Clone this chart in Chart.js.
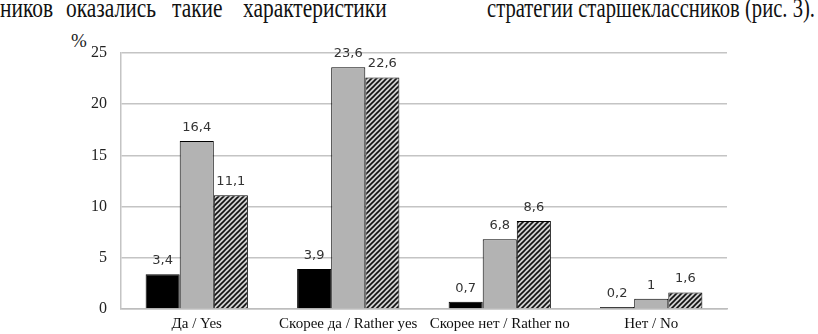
<!DOCTYPE html>
<html>
<head>
<meta charset="utf-8">
<script src="https://cdn.jsdelivr.net/npm/chart.js@4.4.1/dist/chart.umd.min.js"></script>
<style>
  html, body { margin: 0; padding: 0; background: #fff; }
  body { width: 818px; height: 334px; position: relative; overflow: hidden; }
  .txt { position: absolute; top: -5px; font-family: "Liberation Serif", "DejaVu Serif", serif; font-size: 27px; line-height: 27px; color: #111; white-space: nowrap; transform-origin: 0 0; }
  #t2 { left: 487px; }
  #pct { position: absolute; left: 71px; top: 30px; font-family: "Liberation Serif", serif; font-size: 19px; color: #222; }
  #wrap { position: absolute; left: 0; top: 0; width: 818px; height: 334px; }
</style>
</head>
<body>
<div class="txt" id="w1" style="left:0">ников</div>
<div class="txt" id="w2" style="left:66px">оказались</div>
<div class="txt" id="w3" style="left:172px">такие</div>
<div class="txt" id="w4" style="left:243px">характеристики</div>
<div class="txt" id="t2">стратегии старшеклассников (рис. 3).</div>
<div id="pct">%</div>
<div id="wrap"><canvas id="c" width="818" height="334"></canvas></div>
<script>
const categories = ["Да / Yes", "Скорее да / Rather yes", "Скорее нет / Rather no", "Нет / No"];
const series1 = [3.4, 3.9, 0.7, 0.2];
const series2 = [16.4, 23.6, 6.8, 1];
const series3 = [11.1, 22.6, 8.6, 1.6];
const yTicks = [0, 5, 10, 15, 20, 25];

(function fitTop() {
  const t2 = document.getElementById('t2');
  t2.style.transform = 'scaleX(' + (328 / t2.getBoundingClientRect().width) + ')';
  const k = 90 / document.getElementById('w2').getBoundingClientRect().width;
  ['w1', 'w2', 'w3', 'w4'].forEach(id => {
    document.getElementById(id).style.transform = 'scaleX(' + k + ')';
  });
})();

function hatch() {
  const p = document.createElement('canvas');
  p.width = 5; p.height = 5;
  const g = p.getContext('2d');
  g.fillStyle = '#d0d0d0';
  g.fillRect(0, 0, 5, 5);
  g.strokeStyle = '#111';
  g.lineWidth = 1.6;
  g.beginPath();
  g.moveTo(-1, 6); g.lineTo(6, -1);
  g.moveTo(-1, 1); g.lineTo(1, -1);
  g.moveTo(4, 6); g.lineTo(6, 4);
  g.stroke();
  return document.getElementById('c').getContext('2d').createPattern(p, 'repeat');
}

const labelPlugin = {
  id: 'vals',
  afterDatasetsDraw(chart) {
    const ctx = chart.ctx;
    ctx.save();
    ctx.font = '13px "DejaVu Sans", sans-serif';
    ctx.fillStyle = '#333';
    ctx.textAlign = 'center';
    ctx.textBaseline = 'bottom';
    chart.data.datasets.forEach((ds, i) => {
      chart.getDatasetMeta(i).data.forEach((bar, j) => {
        ctx.fillText(String(ds.data[j]).replace('.', ','), bar.x, bar.y - 7);
      });
    });
    ctx.restore();
  }
};

new Chart(document.getElementById('c'), {
  type: 'bar',
  data: {
    labels: categories,
    datasets: [
      { data: series1, backgroundColor: '#000', borderColor: '#000', borderWidth: 1 },
      { data: series2, backgroundColor: '#b3b3b3', borderColor: '#000', borderWidth: 1 },
      { data: series3, backgroundColor: hatch(), borderColor: '#000', borderWidth: 1 }
    ]
  },
  options: {
    responsive: false,
    animation: false,
    events: [],
    categoryPercentage: 0.675,
    barPercentage: 1,
    layout: { padding: { left: 0, top: 53, right: 91, bottom: 0 } },
    plugins: { legend: { display: false }, tooltip: { enabled: false } },
    scales: {
      x: {
        grid: { display: false, drawTicks: false },
        border: { color: '#bdbdbd', width: 1.5 },
        ticks: { color: '#111', font: { family: '"Liberation Serif", serif', size: 15 }, padding: 6, maxRotation: 0, autoSkip: false },
        afterFit(s) { s.height = 25; }
      },
      y: {
        min: 0, max: 25,
        afterBuildTicks(s) { s.ticks = yTicks.map(v => ({ value: v })); },
        grid: { color: '#c4c4c4', lineWidth: 1.5, drawTicks: false },
        border: { color: '#c4c4c4', width: 1.5 },
        ticks: { color: '#222', font: { family: '"Liberation Serif", serif', size: 16 }, padding: 14 },
        afterFit(s) { s.width = 121; }
      }
    }
  },
  plugins: [labelPlugin]
});
</script>
</body>
</html>
